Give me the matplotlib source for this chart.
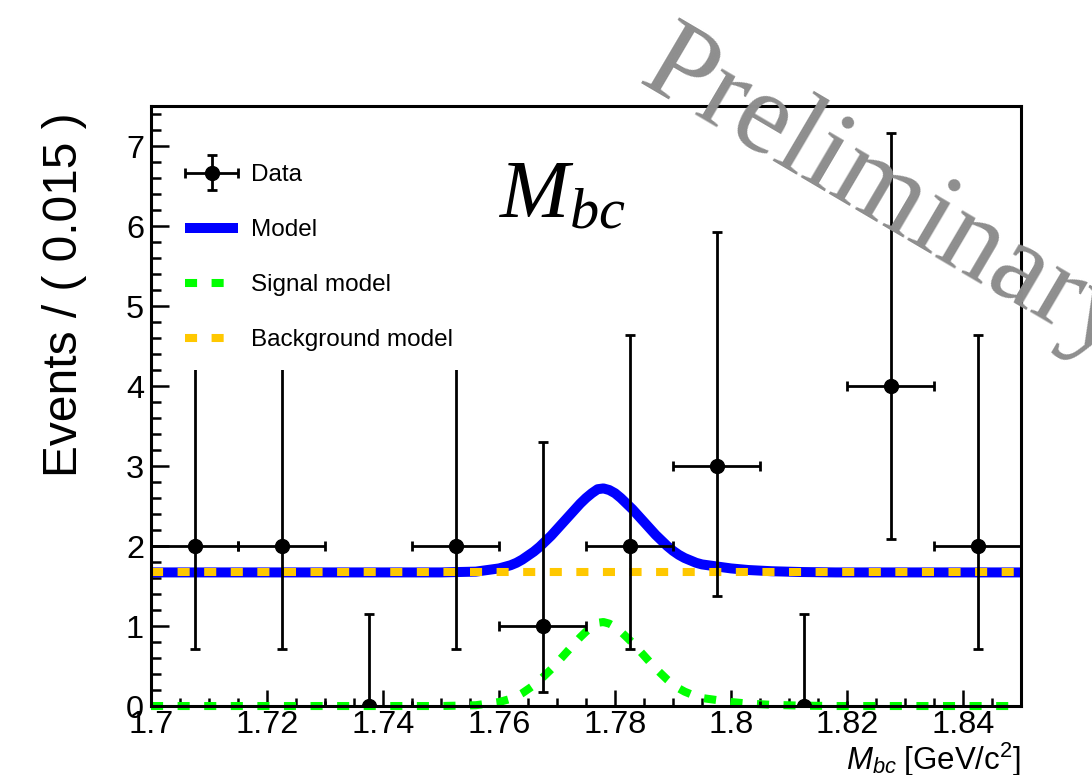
import matplotlib
matplotlib.use('Agg')
import matplotlib.pyplot as plt
from matplotlib.patches import Rectangle
from matplotlib.legend_handler import HandlerErrorbar
from matplotlib.container import ErrorbarContainer
from matplotlib.ticker import MultipleLocator, FormatStrFormatter

plt.rcParams['font.family'] = ['Liberation Sans', 'DejaVu Sans']
plt.rcParams['mathtext.fontset'] = 'custom'
plt.rcParams['mathtext.it'] = 'Liberation Serif:italic'
plt.rcParams['mathtext.sf'] = 'Liberation Sans:italic'
plt.rcParams['mathtext.rm'] = 'Liberation Sans'

# binned data (bin width 0.015) with Poisson intervals
bin_centers = [1.7075, 1.7225, 1.7375, 1.7525, 1.7675, 1.7825, 1.7975, 1.8125, 1.8275, 1.8425]
counts = [2, 2, 0, 2, 1, 2, 3, 0, 4, 2]
err_low = [1.29, 1.29, 0.0, 1.29, 0.83, 1.29, 1.63, 0.0, 1.91, 1.29]
err_high = [2.64, 2.64, 1.15, 2.64, 2.30, 2.64, 2.92, 1.15, 3.16, 2.64]
half_bin = [0.0075] * 10

# fitted curves
curve_x = [1.700, 1.750, 1.756, 1.757, 1.758, 1.759, 1.760, 1.761, 1.762, 1.763,
           1.764, 1.765, 1.766, 1.767, 1.768, 1.769, 1.770, 1.771, 1.772, 1.773,
           1.774, 1.775, 1.776, 1.777, 1.778, 1.779, 1.780, 1.781, 1.782, 1.783,
           1.784, 1.785, 1.786, 1.787, 1.788, 1.789, 1.790, 1.791, 1.792, 1.793,
           1.794, 1.795, 1.796, 1.798, 1.800, 1.803, 1.807, 1.812, 1.818, 1.850]
signal_vals = [0.0, 0.0, 0.01, 0.02, 0.03, 0.04, 0.05, 0.07, 0.09, 0.12,
               0.16, 0.21, 0.26, 0.32, 0.39, 0.46, 0.54, 0.62, 0.70, 0.78,
               0.86, 0.93, 0.99, 1.04, 1.05, 1.03, 0.99, 0.93, 0.86, 0.79,
               0.71, 0.63, 0.55, 0.47, 0.40, 0.33, 0.27, 0.22, 0.18, 0.15,
               0.12, 0.10, 0.09, 0.07, 0.05, 0.03, 0.015, 0.005, 0.0, 0.0]
model_vals = [1.67, 1.67, 1.68, 1.69, 1.70, 1.71, 1.72, 1.74, 1.76, 1.79,
              1.83, 1.88, 1.93, 1.99, 2.06, 2.13, 2.21, 2.29, 2.37, 2.45,
              2.53, 2.60, 2.66, 2.71, 2.72, 2.70, 2.66, 2.60, 2.53, 2.46,
              2.38, 2.30, 2.22, 2.14, 2.07, 2.00, 1.94, 1.89, 1.85, 1.82,
              1.79, 1.77, 1.76, 1.74, 1.72, 1.70, 1.685, 1.675, 1.67, 1.67]
bkg_x = [1.70, 1.85]
bkg_vals = [1.67, 1.67]

legend_labels = ['Data', 'Model', 'Signal model', 'Background model']

fig = plt.figure(figsize=(10.92, 7.75), dpi=100)
ax = fig.add_axes([0.1383, 0.089, 0.7967, 0.7742])

# curves
model_line, = ax.plot(curve_x, model_vals, color='#0000ff', lw=7.2, zorder=2,
                      solid_capstyle='butt')
bkg_line, = ax.plot(bkg_x, bkg_vals, color='#ffc800', lw=5.8, zorder=2.1,
                    linestyle=(0, (1.5, 1.8)), dash_capstyle='butt')
sig_line, = ax.plot(curve_x, signal_vals, color='#00ff00', lw=5.8, zorder=2.2,
                    linestyle=(0, (1.5, 1.8)), dash_capstyle='butt', clip_on=False)

# data points
eb = ax.errorbar(bin_centers, counts, xerr=half_bin, yerr=[err_low, err_high],
                 fmt='o', color='black', ms=10, elinewidth=2, capsize=3.5,
                 capthick=2, zorder=3)

ax.set_xlim(1.7, 1.85)
ax.set_ylim(0, 7.5)

# ROOT-like axes
for sp in ax.spines.values():
    sp.set_linewidth(2.2)
ax.xaxis.set_major_locator(MultipleLocator(0.02))
ax.xaxis.set_minor_locator(MultipleLocator(0.005))
ax.xaxis.set_major_formatter(FormatStrFormatter('%g'))
ax.yaxis.set_major_locator(MultipleLocator(1))
ax.yaxis.set_minor_locator(MultipleLocator(0.2))
ax.tick_params(axis='both', which='both', direction='in', top=False, right=False,
               width=1.8, labelsize=23.4)
ax.tick_params(axis='x', which='major', length=11.5, pad=3)
ax.tick_params(axis='x', which='minor', length=6)
ax.tick_params(axis='y', which='major', length=13, pad=5)
ax.tick_params(axis='y', which='minor', length=7.5)

ax.set_ylabel('Events / ( 0.015 )', fontsize=34.5, loc='top')
ax.yaxis.set_label_coords(-0.085, 0.99)
ax.yaxis.label.set_va('baseline')

ax.set_xlabel(r'$\mathsf{M}_{\mathsf{bc}}\ \mathrm{[GeV/c^{2}]}$', fontsize=22.5, loc='right')
ax.xaxis.set_label_coords(1.0, -0.107)
ax.xaxis.label.set_va('baseline')

# white legend box hides the upper error bars
ax.add_patch(Rectangle((0.028, 0.56), 0.335, 0.38, transform=ax.transAxes,
                       facecolor='white', edgecolor='none', zorder=4))
leg = ax.legend([eb, model_line, sig_line, bkg_line], legend_labels,
                loc='upper left', bbox_to_anchor=(0.039, 0.903), frameon=False,
                fontsize=17.5, handlelength=2.2, handletextpad=0.5,
                labelspacing=1.36, borderpad=0, borderaxespad=0,
                handler_map={ErrorbarContainer: HandlerErrorbar(xerr_size=1.09, yerr_size=0.72)})
leg.set_zorder(5)

ax.text(0.4, 0.815, r'$M_{bc}$', transform=ax.transAxes, fontsize=60,
        ha='left', va='baseline')

fig.text(0.583, 0.893, 'Preliminary', rotation=-30.5, rotation_mode='anchor',
         ha='left', va='baseline', fontsize=84, color='#8e8e8e',
         family='Liberation Serif')

fig.savefig('out.png', dpi=100)
